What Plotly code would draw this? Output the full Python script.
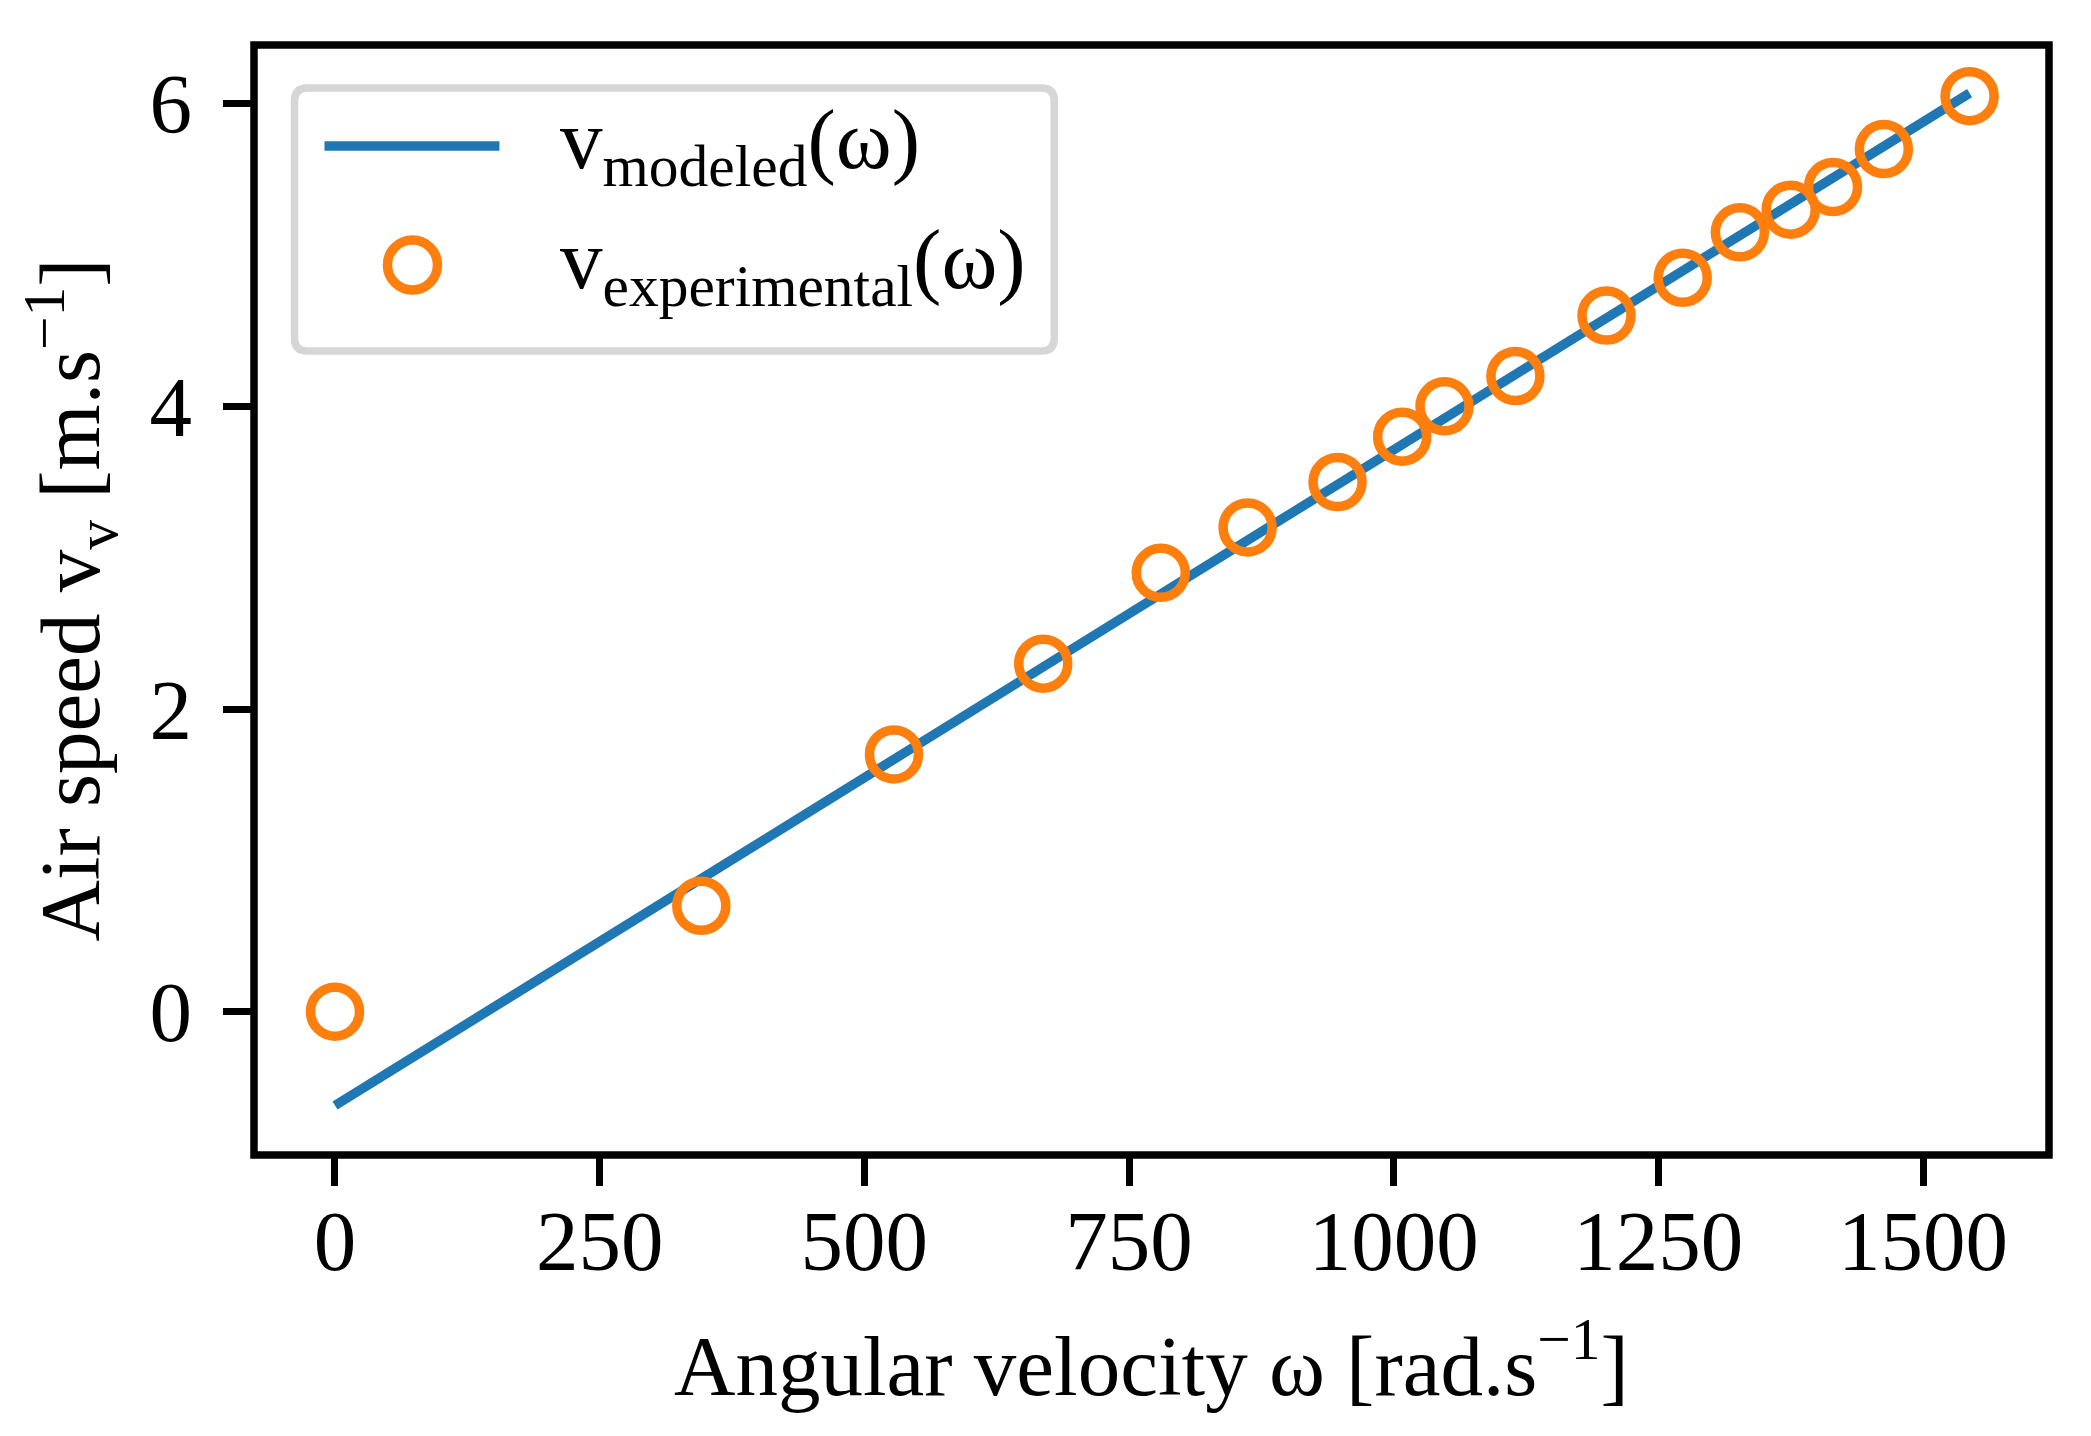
import plotly.graph_objects as go

# ---- data ----
omega = [0, 346, 528, 669, 780, 862, 947, 1008, 1048, 1115, 1201, 1273, 1327, 1375, 1415, 1463, 1544]
v_experimental = [0.0, 0.70, 1.70, 2.30, 2.90, 3.20, 3.50, 3.80, 4.00, 4.20, 4.60, 4.85, 5.15, 5.30, 5.45, 5.70, 6.05]
v_modeled = [-0.62, 0.88, 1.67, 2.28, 2.76, 3.11, 3.48, 3.75, 3.92, 4.21, 4.58, 4.90, 5.13, 5.34, 5.51, 5.72, 6.07]
x_ticks = [0, 250, 500, 750, 1000, 1250, 1500]
y_ticks = [0, 2, 4, 6]
legend_labels = ["v<sub>modeled</sub>(ω)", "v<sub>experimental</sub>(ω)"]

# ---- layout geometry (page pixels; the page body adds an 8 px margin) ----
PAGE_W, PAGE_H, OFF = 2091, 1436, 8
W, H = PAGE_W - OFF, PAGE_H - OFF
L, R, T, B = 253.5, 2049, 45, 1155          # plot-area edges on the page
FONT = "Liberation Serif"
FS = 85
BLUE = "#1f77b4"
ORANGE = "#ff7f0e"


def px(x):
    return (x - L) / (R - L)


def py(y):
    return (B - y) / (B - T)


fig = go.Figure()
fig.add_trace(go.Scatter(x=omega, y=v_modeled, mode="lines",
                         line=dict(color=BLUE, width=9.5), showlegend=False))
fig.add_trace(go.Scatter(x=omega, y=v_experimental, mode="markers",
                         marker=dict(symbol="circle-open", size=49, color=ORANGE,
                                     line=dict(color=ORANGE, width=9.5)),
                         showlegend=False))

axis_common = dict(showline=False, ticks="outside", ticklen=30, tickwidth=7.3, tickcolor="black",
                   showgrid=False, zeroline=False,
                   tickfont=dict(family=FONT, size=FS, color="black"))

fig.update_xaxes(range=[-76.5, 1619], tickvals=x_ticks, ticktext=[str(t) for t in x_ticks],
                 ticklabelstandoff=-18,
                 title=dict(text="Angular velocity ω [rad.s<sup>−1</sup>]",
                            font=dict(family=FONT, size=FS, color="black"), standoff=48),
                 **axis_common)
fig.update_yaxes(range=[-0.947, 6.388], tickvals=y_ticks, ticktext=[str(t) for t in y_ticks],
                 ticklabelstandoff=14,
                 title=dict(text="Air speed v<sub>v</sub> [m.s<sup>−1</sup>]",
                            font=dict(family=FONT, size=FS, color="black"), standoff=21),
                 **axis_common)

# ---- frame + custom legend (rounded box, long line sample, big marker) ----
lx0, lx1, ly0, ly1, r = 294, 1054, 88, 351, 13
rx, ry = r / (R - L), r / (B - T)
X0, X1, Y0, Y1 = px(lx0), px(lx1), py(ly1), py(ly0)
path = (f"M {X0+rx},{Y0} L {X1-rx},{Y0} Q {X1},{Y0} {X1},{Y0+ry} "
        f"L {X1},{Y1-ry} Q {X1},{Y1} {X1-rx},{Y1} L {X0+rx},{Y1} "
        f"Q {X0},{Y1} {X0},{Y1-ry} L {X0},{Y0+ry} Q {X0},{Y0} {X0+rx},{Y0} Z")
shapes = [
    dict(type="rect", xref="paper", yref="paper", x0=0, x1=1, y0=0, y1=1, layer="above",
         line=dict(color="black", width=7.5)),
    dict(type="path", xref="paper", yref="paper", path=path, layer="above",
         line=dict(color="#d6d6d6", width=7.5), fillcolor="rgba(255,255,255,0.85)"),
    dict(type="line", xref="paper", yref="paper", x0=px(324), x1=px(499), y0=py(146), y1=py(146),
         layer="above", line=dict(color=BLUE, width=9.5)),
    dict(type="circle", xref="paper", yref="paper", xsizemode="pixel", ysizemode="pixel",
         xanchor=px(412), yanchor=py(265), x0=-25, x1=25, y0=-25, y1=25, layer="above",
         line=dict(color=ORANGE, width=9.5)),
]
annotations = [
    dict(text=legend_labels[0], xref="paper", yref="paper", x=px(558), y=py(146),
         xanchor="left", yanchor="middle", showarrow=False,
         font=dict(family=FONT, size=FS, color="black")),
    dict(text=legend_labels[1], xref="paper", yref="paper", x=px(558), y=py(265),
         xanchor="left", yanchor="middle", showarrow=False,
         font=dict(family=FONT, size=FS, color="black")),
]

fig.update_layout(width=W, height=H,
                  margin=dict(l=L - OFF, r=PAGE_W - R, t=T - OFF, b=PAGE_H - B),
                  paper_bgcolor="white", plot_bgcolor="white",
                  shapes=shapes, annotations=annotations, showlegend=False)

fig.write_html("out.html")
